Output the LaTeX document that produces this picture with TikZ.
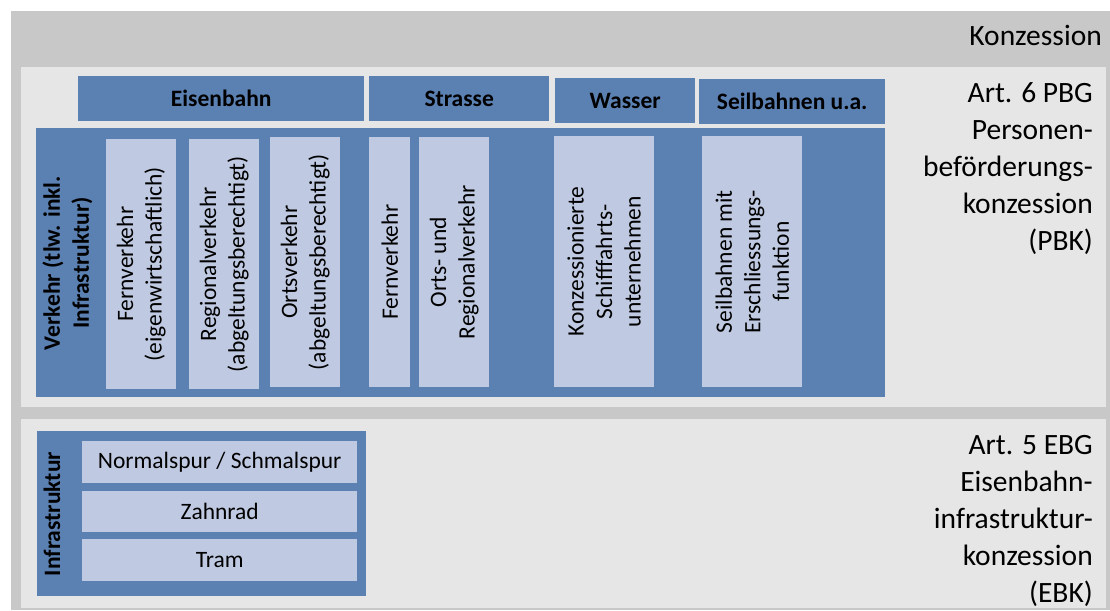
\documentclass[tikz,border=0pt]{standalone}
\usepackage{fontspec}
\setmainfont{Carlito}
\definecolor{outerg}{HTML}{C8C8C8}
\definecolor{panelg}{HTML}{E6E6E6}
\definecolor{blu}{HTML}{5B80B2}
\definecolor{lblu}{HTML}{BFCAE2}
\begin{document}
\begin{tikzpicture}[x=1pt,y=-1pt,
  blk/.style={fill=blu,draw=none,inner sep=0pt,anchor=north west},
  hdr/.style={blk,font=\fontsize{23.5}{28}\selectfont\bfseries},
  lbox/.style={fill=lblu,draw=none,inner sep=0pt,anchor=north west},
  vtxt/.style={rotate=90,align=center,inner sep=0pt,font=\fontsize{23.5}{28.5}\selectfont},
  vbold/.style={vtxt,font=\fontsize{23.5}{29}\selectfont\bfseries},
  htxt/.style={inner sep=0pt,font=\fontsize{23.5}{28.5}\selectfont},
  rtxt/.style={inner sep=0pt,anchor=base east,font=\fontsize{29.5}{37}\selectfont}]
\useasboundingbox (0,0) rectangle (1110,610);
\fill[white] (0,0) rectangle (1110,610);
\fill[outerg] (11,11) rectangle (1110,610);
\fill[panelg] (21,67) rectangle (1106,407);
\fill[panelg] (21,419) rectangle (1106,608);

% top row headers
\node[hdr,minimum width=286pt,minimum height=45pt] (eisen) at (78,76) {Eisenbahn};
\node[hdr,minimum width=180pt,minimum height=45pt] (strasse) at (369,76) {Strasse};
\node[hdr,minimum width=140pt,minimum height=45pt] (wasser) at (555,78) {Wasser};
\node[hdr,minimum width=186pt,minimum height=45pt] (seil) at (699,79) {Seilbahnen u.a.};

% Verkehr block
\node[blk,minimum width=849pt,minimum height=269pt] (verkehr) at (36,128) {};
\node[vbold] (verkehrT) at (67.5,263) {Verkehr (tlw. inkl.\\Infrastruktur)};

\node[lbox,minimum width=70pt,minimum height=250pt] (fern) at (106,139) {};
\node[vtxt] at (fern.center) {Fernverkehr\\(eigenwirtschaftlich)};
\node[lbox,minimum width=70pt,minimum height=250pt] (regio) at (189,139) {};
\node[vtxt] at (regio.center) {Regionalverkehr\\(abgeltungsberechtigt)};
\node[lbox,minimum width=70pt,minimum height=250pt] (orts) at (270,137) {};
\node[vtxt] at (orts.center) {Ortsverkehr\\(abgeltungsberechtigt)};

\node[lbox,minimum width=41pt,minimum height=250pt] (sfern) at (369,137) {};
\node[vtxt] at (sfern.center) {Fernverkehr};
\node[lbox,minimum width=70pt,minimum height=250pt] (sorts) at (419,137) {};
\node[vtxt] at (sorts.center) {Orts- und\\Regionalverkehr};

\node[lbox,minimum width=100pt,minimum height=251pt] (schiff) at (554,136) {};
\node[vtxt] at (schiff.center) {Konzessionierte\\Schifffahrts-\\unternehmen};
\node[lbox,minimum width=100pt,minimum height=251pt] (sbahn) at (702,136) {};
\node[vtxt] at (sbahn.center) {Seilbahnen mit\\Erschliessungs-\\funktion};

% Infrastruktur block
\node[blk,minimum width=329pt,minimum height=165pt] (infra) at (37,431) {};
\node[vbold] (infraT) at (52,514) {Infrastruktur};
\node[lbox,minimum width=275pt,minimum height=42pt] (normal) at (82,441) {};
\node[htxt] at (normal.center) {Normalspur / Schmalspur};
\node[lbox,minimum width=275pt,minimum height=41pt] (zahn) at (82,491) {};
\node[htxt] at (zahn.center) {Zahnrad};
\node[lbox,minimum width=275pt,minimum height=42pt] (tram) at (82,539) {};
\node[htxt] at (tram.center) {Tram};

% right labels
\node[rtxt] (konz) at (1102,46) {Konzession};
\node[rtxt] (p1) at (1093,102) {Art. 6 PBG};
\node[rtxt] (p2) at (1093,139.5) {Personen-};
\node[rtxt] (p3) at (1093,176.5) {beförderungs-};
\node[rtxt] (p4) at (1093,213.5) {konzession};
\node[rtxt] (p5) at (1093,250.5) {(PBK)};
\node[rtxt] (e1) at (1093,454) {Art. 5 EBG};
\node[rtxt] (e2) at (1093,491) {Eisenbahn-};
\node[rtxt] (e3) at (1093,528) {infrastruktur-};
\node[rtxt] (e4) at (1093,565) {konzession};
\node[rtxt] (e5) at (1093,602) {(EBK)};
\end{tikzpicture}
\end{document}
